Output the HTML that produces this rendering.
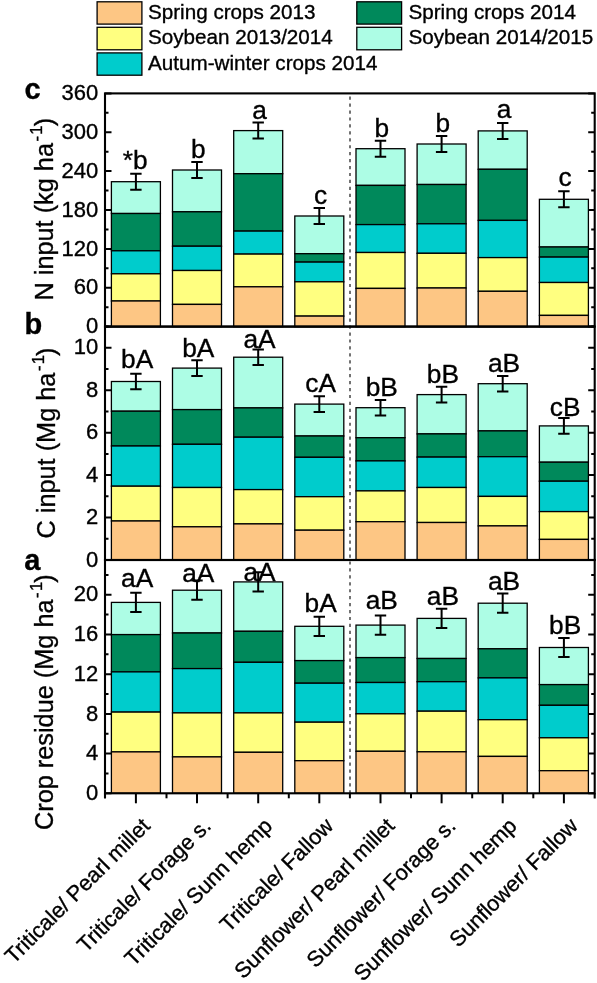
<!DOCTYPE html>
<html><head><meta charset="utf-8"><title>Crop residue, C input and N input</title>
<style>html,body{margin:0;padding:0;background:#fff}svg{display:block}text{font-family:"Liberation Sans",sans-serif;fill:#000;stroke:#000;stroke-width:0.35px}</style></head><body>
<svg width="597" height="983" viewBox="0 0 597 983">
<rect width="597" height="983" fill="#fff"/>
<rect x="111.4" y="181.7" width="49.0" height="31.8" fill="#ADFDE5" stroke="#000" stroke-width="1.3"/>
<rect x="111.4" y="213.5" width="49.0" height="37.3" fill="#00895B" stroke="#000" stroke-width="1.3"/>
<rect x="111.4" y="250.8" width="49.0" height="23.0" fill="#00CCCC" stroke="#000" stroke-width="1.3"/>
<rect x="111.4" y="273.8" width="49.0" height="27.2" fill="#FFFF80" stroke="#000" stroke-width="1.3"/>
<rect x="111.4" y="301.0" width="49.0" height="25.6" fill="#FDC684" stroke="#000" stroke-width="1.3"/>
<path d="M135.9 173.7V189.7M130.2 173.7h11.4M130.2 189.7h11.4" stroke="#000" stroke-width="2" fill="none"/>
<text x="135.1" y="168.8" font-size="26.3" text-anchor="middle">*b</text>
<rect x="172.5" y="170.0" width="49.0" height="41.8" fill="#ADFDE5" stroke="#000" stroke-width="1.3"/>
<rect x="172.5" y="211.8" width="49.0" height="34.4" fill="#00895B" stroke="#000" stroke-width="1.3"/>
<rect x="172.5" y="246.2" width="49.0" height="24.3" fill="#00CCCC" stroke="#000" stroke-width="1.3"/>
<rect x="172.5" y="270.5" width="49.0" height="33.9" fill="#FFFF80" stroke="#000" stroke-width="1.3"/>
<rect x="172.5" y="304.4" width="49.0" height="22.2" fill="#FDC684" stroke="#000" stroke-width="1.3"/>
<path d="M197.0 162.0V178.0M191.3 162.0h11.4M191.3 178.0h11.4" stroke="#000" stroke-width="2" fill="none"/>
<text x="198.3" y="157.9" font-size="26.3" text-anchor="middle">b</text>
<rect x="233.7" y="130.6" width="49.0" height="43.1" fill="#ADFDE5" stroke="#000" stroke-width="1.3"/>
<rect x="233.7" y="173.7" width="49.0" height="57.4" fill="#00895B" stroke="#000" stroke-width="1.3"/>
<rect x="233.7" y="231.1" width="49.0" height="23.0" fill="#00CCCC" stroke="#000" stroke-width="1.3"/>
<rect x="233.7" y="254.1" width="49.0" height="32.7" fill="#FFFF80" stroke="#000" stroke-width="1.3"/>
<rect x="233.7" y="286.8" width="49.0" height="39.8" fill="#FDC684" stroke="#000" stroke-width="1.3"/>
<path d="M258.2 122.6V138.6M252.5 122.6h11.4M252.5 138.6h11.4" stroke="#000" stroke-width="2" fill="none"/>
<text x="259.5" y="119.4" font-size="26.3" text-anchor="middle">a</text>
<rect x="294.8" y="216.0" width="49.0" height="37.7" fill="#ADFDE5" stroke="#000" stroke-width="1.3"/>
<rect x="294.8" y="253.7" width="49.0" height="8.4" fill="#00895B" stroke="#000" stroke-width="1.3"/>
<rect x="294.8" y="262.1" width="49.0" height="19.7" fill="#00CCCC" stroke="#000" stroke-width="1.3"/>
<rect x="294.8" y="281.8" width="49.0" height="34.3" fill="#FFFF80" stroke="#000" stroke-width="1.3"/>
<rect x="294.8" y="316.1" width="49.0" height="10.5" fill="#FDC684" stroke="#000" stroke-width="1.3"/>
<path d="M319.3 208.0V224.0M313.6 208.0h11.4M313.6 224.0h11.4" stroke="#000" stroke-width="2" fill="none"/>
<text x="320.6" y="204.4" font-size="26.3" text-anchor="middle">c</text>
<rect x="356.0" y="148.7" width="49.0" height="36.7" fill="#ADFDE5" stroke="#000" stroke-width="1.3"/>
<rect x="356.0" y="185.4" width="49.0" height="39.2" fill="#00895B" stroke="#000" stroke-width="1.3"/>
<rect x="356.0" y="224.6" width="49.0" height="27.9" fill="#00CCCC" stroke="#000" stroke-width="1.3"/>
<rect x="356.0" y="252.5" width="49.0" height="35.9" fill="#FFFF80" stroke="#000" stroke-width="1.3"/>
<rect x="356.0" y="288.4" width="49.0" height="38.2" fill="#FDC684" stroke="#000" stroke-width="1.3"/>
<path d="M380.5 140.7V156.7M374.8 140.7h11.4M374.8 156.7h11.4" stroke="#000" stroke-width="2" fill="none"/>
<text x="381.8" y="136.5" font-size="26.3" text-anchor="middle">b</text>
<rect x="417.1" y="144.0" width="49.0" height="40.5" fill="#ADFDE5" stroke="#000" stroke-width="1.3"/>
<rect x="417.1" y="184.5" width="49.0" height="39.3" fill="#00895B" stroke="#000" stroke-width="1.3"/>
<rect x="417.1" y="223.8" width="49.0" height="29.5" fill="#00CCCC" stroke="#000" stroke-width="1.3"/>
<rect x="417.1" y="253.3" width="49.0" height="34.7" fill="#FFFF80" stroke="#000" stroke-width="1.3"/>
<rect x="417.1" y="288.0" width="49.0" height="38.6" fill="#FDC684" stroke="#000" stroke-width="1.3"/>
<path d="M441.6 136.0V152.0M435.9 136.0h11.4M435.9 152.0h11.4" stroke="#000" stroke-width="2" fill="none"/>
<text x="442.9" y="132.3" font-size="26.3" text-anchor="middle">b</text>
<rect x="478.2" y="130.9" width="49.0" height="38.4" fill="#ADFDE5" stroke="#000" stroke-width="1.3"/>
<rect x="478.2" y="169.3" width="49.0" height="51.1" fill="#00895B" stroke="#000" stroke-width="1.3"/>
<rect x="478.2" y="220.4" width="49.0" height="37.2" fill="#00CCCC" stroke="#000" stroke-width="1.3"/>
<rect x="478.2" y="257.6" width="49.0" height="33.7" fill="#FFFF80" stroke="#000" stroke-width="1.3"/>
<rect x="478.2" y="291.3" width="49.0" height="35.3" fill="#FDC684" stroke="#000" stroke-width="1.3"/>
<path d="M502.7 122.9V138.9M497.0 122.9h11.4M497.0 138.9h11.4" stroke="#000" stroke-width="2" fill="none"/>
<text x="504.0" y="117.5" font-size="26.3" text-anchor="middle">a</text>
<rect x="539.4" y="199.3" width="49.0" height="47.7" fill="#ADFDE5" stroke="#000" stroke-width="1.3"/>
<rect x="539.4" y="247.0" width="49.0" height="10.1" fill="#00895B" stroke="#000" stroke-width="1.3"/>
<rect x="539.4" y="257.1" width="49.0" height="25.4" fill="#00CCCC" stroke="#000" stroke-width="1.3"/>
<rect x="539.4" y="282.5" width="49.0" height="32.9" fill="#FFFF80" stroke="#000" stroke-width="1.3"/>
<rect x="539.4" y="315.4" width="49.0" height="11.2" fill="#FDC684" stroke="#000" stroke-width="1.3"/>
<path d="M563.9 191.3V207.3M558.2 191.3h11.4M558.2 207.3h11.4" stroke="#000" stroke-width="2" fill="none"/>
<text x="565.2" y="186.3" font-size="26.3" text-anchor="middle">c</text>
<rect x="111.4" y="381.5" width="49.0" height="29.7" fill="#ADFDE5" stroke="#000" stroke-width="1.3"/>
<rect x="111.4" y="411.2" width="49.0" height="34.8" fill="#00895B" stroke="#000" stroke-width="1.3"/>
<rect x="111.4" y="446.0" width="49.0" height="40.2" fill="#00CCCC" stroke="#000" stroke-width="1.3"/>
<rect x="111.4" y="486.2" width="49.0" height="34.8" fill="#FFFF80" stroke="#000" stroke-width="1.3"/>
<rect x="111.4" y="521.0" width="49.0" height="39.0" fill="#FDC684" stroke="#000" stroke-width="1.3"/>
<path d="M135.9 373.7V389.3M130.2 373.7h11.4M130.2 389.3h11.4" stroke="#000" stroke-width="2" fill="none"/>
<text x="137.2" y="368.3" font-size="26.3" text-anchor="middle">bA</text>
<rect x="172.5" y="368.1" width="49.0" height="41.5" fill="#ADFDE5" stroke="#000" stroke-width="1.3"/>
<rect x="172.5" y="409.6" width="49.0" height="34.7" fill="#00895B" stroke="#000" stroke-width="1.3"/>
<rect x="172.5" y="444.3" width="49.0" height="43.2" fill="#00CCCC" stroke="#000" stroke-width="1.3"/>
<rect x="172.5" y="487.5" width="49.0" height="39.3" fill="#FFFF80" stroke="#000" stroke-width="1.3"/>
<rect x="172.5" y="526.8" width="49.0" height="33.2" fill="#FDC684" stroke="#000" stroke-width="1.3"/>
<path d="M197.0 360.3V375.9M191.3 360.3h11.4M191.3 375.9h11.4" stroke="#000" stroke-width="2" fill="none"/>
<text x="198.3" y="356.8" font-size="26.3" text-anchor="middle">bA</text>
<rect x="233.7" y="357.2" width="49.0" height="50.7" fill="#ADFDE5" stroke="#000" stroke-width="1.3"/>
<rect x="233.7" y="407.9" width="49.0" height="29.3" fill="#00895B" stroke="#000" stroke-width="1.3"/>
<rect x="233.7" y="437.2" width="49.0" height="52.4" fill="#00CCCC" stroke="#000" stroke-width="1.3"/>
<rect x="233.7" y="489.6" width="49.0" height="34.3" fill="#FFFF80" stroke="#000" stroke-width="1.3"/>
<rect x="233.7" y="523.9" width="49.0" height="36.1" fill="#FDC684" stroke="#000" stroke-width="1.3"/>
<path d="M258.2 349.4V365.0M252.5 349.4h11.4M252.5 365.0h11.4" stroke="#000" stroke-width="2" fill="none"/>
<text x="259.5" y="348.1" font-size="26.3" text-anchor="middle">aA</text>
<rect x="294.8" y="404.1" width="49.0" height="31.9" fill="#ADFDE5" stroke="#000" stroke-width="1.3"/>
<rect x="294.8" y="436.0" width="49.0" height="21.3" fill="#00895B" stroke="#000" stroke-width="1.3"/>
<rect x="294.8" y="457.3" width="49.0" height="39.4" fill="#00CCCC" stroke="#000" stroke-width="1.3"/>
<rect x="294.8" y="496.7" width="49.0" height="33.5" fill="#FFFF80" stroke="#000" stroke-width="1.3"/>
<rect x="294.8" y="530.2" width="49.0" height="29.8" fill="#FDC684" stroke="#000" stroke-width="1.3"/>
<path d="M319.3 396.3V411.9M313.6 396.3h11.4M313.6 411.9h11.4" stroke="#000" stroke-width="2" fill="none"/>
<text x="320.6" y="392.1" font-size="26.3" text-anchor="middle">cA</text>
<rect x="356.0" y="407.7" width="49.0" height="30.0" fill="#ADFDE5" stroke="#000" stroke-width="1.3"/>
<rect x="356.0" y="437.7" width="49.0" height="23.2" fill="#00895B" stroke="#000" stroke-width="1.3"/>
<rect x="356.0" y="460.9" width="49.0" height="30.0" fill="#00CCCC" stroke="#000" stroke-width="1.3"/>
<rect x="356.0" y="490.9" width="49.0" height="30.8" fill="#FFFF80" stroke="#000" stroke-width="1.3"/>
<rect x="356.0" y="521.7" width="49.0" height="38.3" fill="#FDC684" stroke="#000" stroke-width="1.3"/>
<path d="M380.5 399.9V415.5M374.8 399.9h11.4M374.8 415.5h11.4" stroke="#000" stroke-width="2" fill="none"/>
<text x="381.8" y="395.6" font-size="26.3" text-anchor="middle">bB</text>
<rect x="417.1" y="394.6" width="49.0" height="39.3" fill="#ADFDE5" stroke="#000" stroke-width="1.3"/>
<rect x="417.1" y="433.9" width="49.0" height="23.2" fill="#00895B" stroke="#000" stroke-width="1.3"/>
<rect x="417.1" y="457.1" width="49.0" height="30.4" fill="#00CCCC" stroke="#000" stroke-width="1.3"/>
<rect x="417.1" y="487.5" width="49.0" height="35.0" fill="#FFFF80" stroke="#000" stroke-width="1.3"/>
<rect x="417.1" y="522.5" width="49.0" height="37.5" fill="#FDC684" stroke="#000" stroke-width="1.3"/>
<path d="M441.6 386.8V402.4M435.9 386.8h11.4M435.9 402.4h11.4" stroke="#000" stroke-width="2" fill="none"/>
<text x="442.9" y="382.9" font-size="26.3" text-anchor="middle">bB</text>
<rect x="478.2" y="383.7" width="49.0" height="47.2" fill="#ADFDE5" stroke="#000" stroke-width="1.3"/>
<rect x="478.2" y="430.9" width="49.0" height="25.8" fill="#00895B" stroke="#000" stroke-width="1.3"/>
<rect x="478.2" y="456.7" width="49.0" height="39.7" fill="#00CCCC" stroke="#000" stroke-width="1.3"/>
<rect x="478.2" y="496.4" width="49.0" height="29.5" fill="#FFFF80" stroke="#000" stroke-width="1.3"/>
<rect x="478.2" y="525.9" width="49.0" height="34.1" fill="#FDC684" stroke="#000" stroke-width="1.3"/>
<path d="M502.7 375.9V391.5M497.0 375.9h11.4M497.0 391.5h11.4" stroke="#000" stroke-width="2" fill="none"/>
<text x="504.0" y="372.4" font-size="26.3" text-anchor="middle">aB</text>
<rect x="539.4" y="425.9" width="49.0" height="36.3" fill="#ADFDE5" stroke="#000" stroke-width="1.3"/>
<rect x="539.4" y="462.2" width="49.0" height="19.0" fill="#00895B" stroke="#000" stroke-width="1.3"/>
<rect x="539.4" y="481.2" width="49.0" height="30.4" fill="#00CCCC" stroke="#000" stroke-width="1.3"/>
<rect x="539.4" y="511.6" width="49.0" height="27.8" fill="#FFFF80" stroke="#000" stroke-width="1.3"/>
<rect x="539.4" y="539.4" width="49.0" height="20.6" fill="#FDC684" stroke="#000" stroke-width="1.3"/>
<path d="M563.9 418.1V433.7M558.2 418.1h11.4M558.2 433.7h11.4" stroke="#000" stroke-width="2" fill="none"/>
<text x="565.2" y="415.9" font-size="26.3" text-anchor="middle">cB</text>
<rect x="111.4" y="602.4" width="49.0" height="32.2" fill="#ADFDE5" stroke="#000" stroke-width="1.3"/>
<rect x="111.4" y="634.6" width="49.0" height="37.3" fill="#00895B" stroke="#000" stroke-width="1.3"/>
<rect x="111.4" y="671.9" width="49.0" height="40.2" fill="#00CCCC" stroke="#000" stroke-width="1.3"/>
<rect x="111.4" y="712.1" width="49.0" height="39.8" fill="#FFFF80" stroke="#000" stroke-width="1.3"/>
<rect x="111.4" y="751.9" width="49.0" height="41.4" fill="#FDC684" stroke="#000" stroke-width="1.3"/>
<path d="M135.9 592.8V612.0M130.2 592.8h11.4M130.2 612.0h11.4" stroke="#000" stroke-width="2" fill="none"/>
<text x="137.2" y="587.4" font-size="26.3" text-anchor="middle">aA</text>
<rect x="172.5" y="590.2" width="49.0" height="42.8" fill="#ADFDE5" stroke="#000" stroke-width="1.3"/>
<rect x="172.5" y="633.0" width="49.0" height="35.6" fill="#00895B" stroke="#000" stroke-width="1.3"/>
<rect x="172.5" y="668.6" width="49.0" height="44.3" fill="#00CCCC" stroke="#000" stroke-width="1.3"/>
<rect x="172.5" y="712.9" width="49.0" height="44.0" fill="#FFFF80" stroke="#000" stroke-width="1.3"/>
<rect x="172.5" y="756.9" width="49.0" height="36.4" fill="#FDC684" stroke="#000" stroke-width="1.3"/>
<path d="M197.0 580.6V599.8M191.3 580.6h11.4M191.3 599.8h11.4" stroke="#000" stroke-width="2" fill="none"/>
<text x="198.3" y="582.0" font-size="26.3" text-anchor="middle">aA</text>
<rect x="233.7" y="581.9" width="49.0" height="49.4" fill="#ADFDE5" stroke="#000" stroke-width="1.3"/>
<rect x="233.7" y="631.3" width="49.0" height="31.0" fill="#00895B" stroke="#000" stroke-width="1.3"/>
<rect x="233.7" y="662.3" width="49.0" height="50.6" fill="#00CCCC" stroke="#000" stroke-width="1.3"/>
<rect x="233.7" y="712.9" width="49.0" height="39.4" fill="#FFFF80" stroke="#000" stroke-width="1.3"/>
<rect x="233.7" y="752.3" width="49.0" height="41.0" fill="#FDC684" stroke="#000" stroke-width="1.3"/>
<path d="M258.2 572.3V591.5M252.5 572.3h11.4M252.5 591.5h11.4" stroke="#000" stroke-width="2" fill="none"/>
<text x="259.5" y="581.1" font-size="26.3" text-anchor="middle">aA</text>
<rect x="294.8" y="626.3" width="49.0" height="34.3" fill="#ADFDE5" stroke="#000" stroke-width="1.3"/>
<rect x="294.8" y="660.6" width="49.0" height="22.6" fill="#00895B" stroke="#000" stroke-width="1.3"/>
<rect x="294.8" y="683.2" width="49.0" height="39.0" fill="#00CCCC" stroke="#000" stroke-width="1.3"/>
<rect x="294.8" y="722.2" width="49.0" height="38.5" fill="#FFFF80" stroke="#000" stroke-width="1.3"/>
<rect x="294.8" y="760.7" width="49.0" height="32.6" fill="#FDC684" stroke="#000" stroke-width="1.3"/>
<path d="M319.3 616.7V635.9M313.6 616.7h11.4M313.6 635.9h11.4" stroke="#000" stroke-width="2" fill="none"/>
<text x="320.6" y="611.7" font-size="26.3" text-anchor="middle">bA</text>
<rect x="356.0" y="625.1" width="49.0" height="32.5" fill="#ADFDE5" stroke="#000" stroke-width="1.3"/>
<rect x="356.0" y="657.6" width="49.0" height="24.9" fill="#00895B" stroke="#000" stroke-width="1.3"/>
<rect x="356.0" y="682.5" width="49.0" height="31.3" fill="#00CCCC" stroke="#000" stroke-width="1.3"/>
<rect x="356.0" y="713.8" width="49.0" height="37.5" fill="#FFFF80" stroke="#000" stroke-width="1.3"/>
<rect x="356.0" y="751.3" width="49.0" height="42.0" fill="#FDC684" stroke="#000" stroke-width="1.3"/>
<path d="M380.5 615.5V634.7M374.8 615.5h11.4M374.8 634.7h11.4" stroke="#000" stroke-width="2" fill="none"/>
<text x="381.8" y="608.8" font-size="26.3" text-anchor="middle">aB</text>
<rect x="417.1" y="618.4" width="49.0" height="40.1" fill="#ADFDE5" stroke="#000" stroke-width="1.3"/>
<rect x="417.1" y="658.5" width="49.0" height="23.2" fill="#00895B" stroke="#000" stroke-width="1.3"/>
<rect x="417.1" y="681.7" width="49.0" height="29.5" fill="#00CCCC" stroke="#000" stroke-width="1.3"/>
<rect x="417.1" y="711.2" width="49.0" height="40.6" fill="#FFFF80" stroke="#000" stroke-width="1.3"/>
<rect x="417.1" y="751.8" width="49.0" height="41.5" fill="#FDC684" stroke="#000" stroke-width="1.3"/>
<path d="M441.6 608.8V628.0M435.9 608.8h11.4M435.9 628.0h11.4" stroke="#000" stroke-width="2" fill="none"/>
<text x="442.9" y="604.5" font-size="26.3" text-anchor="middle">aB</text>
<rect x="478.2" y="603.2" width="49.0" height="45.6" fill="#ADFDE5" stroke="#000" stroke-width="1.3"/>
<rect x="478.2" y="648.8" width="49.0" height="29.1" fill="#00895B" stroke="#000" stroke-width="1.3"/>
<rect x="478.2" y="677.9" width="49.0" height="41.8" fill="#00CCCC" stroke="#000" stroke-width="1.3"/>
<rect x="478.2" y="719.7" width="49.0" height="36.7" fill="#FFFF80" stroke="#000" stroke-width="1.3"/>
<rect x="478.2" y="756.4" width="49.0" height="36.9" fill="#FDC684" stroke="#000" stroke-width="1.3"/>
<path d="M502.7 593.6V612.8M497.0 593.6h11.4M497.0 612.8h11.4" stroke="#000" stroke-width="2" fill="none"/>
<text x="504.0" y="589.8" font-size="26.3" text-anchor="middle">aB</text>
<rect x="539.4" y="647.5" width="49.0" height="37.1" fill="#ADFDE5" stroke="#000" stroke-width="1.3"/>
<rect x="539.4" y="684.6" width="49.0" height="20.7" fill="#00895B" stroke="#000" stroke-width="1.3"/>
<rect x="539.4" y="705.3" width="49.0" height="32.5" fill="#00CCCC" stroke="#000" stroke-width="1.3"/>
<rect x="539.4" y="737.8" width="49.0" height="32.9" fill="#FFFF80" stroke="#000" stroke-width="1.3"/>
<rect x="539.4" y="770.7" width="49.0" height="22.6" fill="#FDC684" stroke="#000" stroke-width="1.3"/>
<path d="M563.9 637.9V657.1M558.2 637.9h11.4M558.2 657.1h11.4" stroke="#000" stroke-width="2" fill="none"/>
<text x="565.2" y="634.1" font-size="26.3" text-anchor="middle">bB</text>
<path d="M350.0 96.6V793.3" stroke="#6c6c6c" stroke-width="1.9" stroke-dasharray="3.2 3.737" fill="none"/>
<rect x="105.0" y="93.4" width="489.70000000000005" height="233.20000000000002" fill="none" stroke="#000" stroke-width="2.1"/>
<rect x="105.0" y="326.6" width="489.70000000000005" height="233.39999999999998" fill="none" stroke="#000" stroke-width="2.1"/>
<rect x="105.0" y="560.0" width="489.70000000000005" height="233.29999999999995" fill="none" stroke="#000" stroke-width="2.1"/>
<path d="M105.0 326.6h6.5M594.7 326.6h-6.5" stroke="#000" stroke-width="2" fill="none"/>
<text x="98.3" y="333.2" font-size="22" text-anchor="end">0</text>
<path d="M105.0 307.2h3.5M594.7 307.2h-3.5" stroke="#000" stroke-width="2" fill="none"/>
<path d="M105.0 287.7h6.5M594.7 287.7h-6.5" stroke="#000" stroke-width="2" fill="none"/>
<text x="98.3" y="294.3" font-size="22" text-anchor="end">60</text>
<path d="M105.0 268.3h3.5M594.7 268.3h-3.5" stroke="#000" stroke-width="2" fill="none"/>
<path d="M105.0 248.9h6.5M594.7 248.9h-6.5" stroke="#000" stroke-width="2" fill="none"/>
<text x="98.3" y="255.5" font-size="22" text-anchor="end">120</text>
<path d="M105.0 229.4h3.5M594.7 229.4h-3.5" stroke="#000" stroke-width="2" fill="none"/>
<path d="M105.0 210.0h6.5M594.7 210.0h-6.5" stroke="#000" stroke-width="2" fill="none"/>
<text x="98.3" y="216.6" font-size="22" text-anchor="end">180</text>
<path d="M105.0 190.6h3.5M594.7 190.6h-3.5" stroke="#000" stroke-width="2" fill="none"/>
<path d="M105.0 171.1h6.5M594.7 171.1h-6.5" stroke="#000" stroke-width="2" fill="none"/>
<text x="98.3" y="177.7" font-size="22" text-anchor="end">240</text>
<path d="M105.0 151.7h3.5M594.7 151.7h-3.5" stroke="#000" stroke-width="2" fill="none"/>
<path d="M105.0 132.3h6.5M594.7 132.3h-6.5" stroke="#000" stroke-width="2" fill="none"/>
<text x="98.3" y="138.9" font-size="22" text-anchor="end">300</text>
<path d="M105.0 112.8h3.5M594.7 112.8h-3.5" stroke="#000" stroke-width="2" fill="none"/>
<path d="M105.0 93.4h6.5M594.7 93.4h-6.5" stroke="#000" stroke-width="2" fill="none"/>
<text x="98.3" y="100.0" font-size="22" text-anchor="end">360</text>
<path d="M105.0 560.0h6.5M594.7 560.0h-6.5" stroke="#000" stroke-width="2" fill="none"/>
<text x="98.3" y="566.6" font-size="22" text-anchor="end">0</text>
<path d="M105.0 538.8h3.5M594.7 538.8h-3.5" stroke="#000" stroke-width="2" fill="none"/>
<path d="M105.0 517.6h6.5M594.7 517.6h-6.5" stroke="#000" stroke-width="2" fill="none"/>
<text x="98.3" y="524.2" font-size="22" text-anchor="end">2</text>
<path d="M105.0 496.3h3.5M594.7 496.3h-3.5" stroke="#000" stroke-width="2" fill="none"/>
<path d="M105.0 475.1h6.5M594.7 475.1h-6.5" stroke="#000" stroke-width="2" fill="none"/>
<text x="98.3" y="481.7" font-size="22" text-anchor="end">4</text>
<path d="M105.0 453.9h3.5M594.7 453.9h-3.5" stroke="#000" stroke-width="2" fill="none"/>
<path d="M105.0 432.7h6.5M594.7 432.7h-6.5" stroke="#000" stroke-width="2" fill="none"/>
<text x="98.3" y="439.3" font-size="22" text-anchor="end">6</text>
<path d="M105.0 411.5h3.5M594.7 411.5h-3.5" stroke="#000" stroke-width="2" fill="none"/>
<path d="M105.0 390.3h6.5M594.7 390.3h-6.5" stroke="#000" stroke-width="2" fill="none"/>
<text x="98.3" y="396.9" font-size="22" text-anchor="end">8</text>
<path d="M105.0 369.0h3.5M594.7 369.0h-3.5" stroke="#000" stroke-width="2" fill="none"/>
<path d="M105.0 347.8h6.5M594.7 347.8h-6.5" stroke="#000" stroke-width="2" fill="none"/>
<text x="98.3" y="354.4" font-size="22" text-anchor="end">10</text>
<path d="M105.0 326.6h3.5M594.7 326.6h-3.5" stroke="#000" stroke-width="2" fill="none"/>
<path d="M105.0 793.3h6.5M594.7 793.3h-6.5" stroke="#000" stroke-width="2" fill="none"/>
<text x="98.3" y="799.9" font-size="22" text-anchor="end">0</text>
<path d="M105.0 773.4h3.5M594.7 773.4h-3.5" stroke="#000" stroke-width="2" fill="none"/>
<path d="M105.0 753.6h6.5M594.7 753.6h-6.5" stroke="#000" stroke-width="2" fill="none"/>
<text x="98.3" y="760.2" font-size="22" text-anchor="end">4</text>
<path d="M105.0 733.7h3.5M594.7 733.7h-3.5" stroke="#000" stroke-width="2" fill="none"/>
<path d="M105.0 713.9h6.5M594.7 713.9h-6.5" stroke="#000" stroke-width="2" fill="none"/>
<text x="98.3" y="720.5" font-size="22" text-anchor="end">8</text>
<path d="M105.0 694.0h3.5M594.7 694.0h-3.5" stroke="#000" stroke-width="2" fill="none"/>
<path d="M105.0 674.2h6.5M594.7 674.2h-6.5" stroke="#000" stroke-width="2" fill="none"/>
<text x="98.3" y="680.8" font-size="22" text-anchor="end">12</text>
<path d="M105.0 654.3h3.5M594.7 654.3h-3.5" stroke="#000" stroke-width="2" fill="none"/>
<path d="M105.0 634.5h6.5M594.7 634.5h-6.5" stroke="#000" stroke-width="2" fill="none"/>
<text x="98.3" y="641.1" font-size="22" text-anchor="end">16</text>
<path d="M105.0 614.6h3.5M594.7 614.6h-3.5" stroke="#000" stroke-width="2" fill="none"/>
<path d="M105.0 594.7h6.5M594.7 594.7h-6.5" stroke="#000" stroke-width="2" fill="none"/>
<text x="98.3" y="601.3" font-size="22" text-anchor="end">20</text>
<path d="M105.0 574.9h3.5M594.7 574.9h-3.5" stroke="#000" stroke-width="2" fill="none"/>
<path d="M135.9 793.3v10" stroke="#000" stroke-width="2" fill="none"/>
<path d="M166.5 793.3v5" stroke="#000" stroke-width="2" fill="none"/>
<text transform="translate(151.2 827.2) rotate(-45)" font-size="21.7" text-anchor="end">Triticale/ Pearl millet</text>
<path d="M197.0 793.3v10" stroke="#000" stroke-width="2" fill="none"/>
<path d="M227.6 793.3v5" stroke="#000" stroke-width="2" fill="none"/>
<text transform="translate(212.3 827.2) rotate(-45)" font-size="21.7" text-anchor="end">Triticale/ Forage s.</text>
<path d="M258.2 793.3v10" stroke="#000" stroke-width="2" fill="none"/>
<path d="M288.8 793.3v5" stroke="#000" stroke-width="2" fill="none"/>
<text transform="translate(273.5 827.2) rotate(-45)" font-size="21.7" text-anchor="end">Triticale/ Sunn hemp</text>
<path d="M319.3 793.3v10" stroke="#000" stroke-width="2" fill="none"/>
<path d="M349.9 793.3v5" stroke="#000" stroke-width="2" fill="none"/>
<text transform="translate(334.6 827.2) rotate(-45)" font-size="21.7" text-anchor="end">Triticale/ Fallow</text>
<path d="M380.5 793.3v10" stroke="#000" stroke-width="2" fill="none"/>
<path d="M411.0 793.3v5" stroke="#000" stroke-width="2" fill="none"/>
<text transform="translate(395.8 827.2) rotate(-45)" font-size="21.7" text-anchor="end">Sunflower/ Pearl millet</text>
<path d="M441.6 793.3v10" stroke="#000" stroke-width="2" fill="none"/>
<path d="M472.2 793.3v5" stroke="#000" stroke-width="2" fill="none"/>
<text transform="translate(456.9 827.2) rotate(-45)" font-size="21.7" text-anchor="end">Sunflower/ Forage s.</text>
<path d="M502.7 793.3v10" stroke="#000" stroke-width="2" fill="none"/>
<path d="M533.3 793.3v5" stroke="#000" stroke-width="2" fill="none"/>
<text transform="translate(518.0 827.2) rotate(-45)" font-size="21.7" text-anchor="end">Sunflower/ Sunn hemp</text>
<path d="M563.9 793.3v10" stroke="#000" stroke-width="2" fill="none"/>
<path d="M105.0 793.3v5.2M594.7 793.3v5.2" stroke="#000" stroke-width="2.1" fill="none"/>
<text transform="translate(579.2 827.2) rotate(-45)" font-size="21.7" text-anchor="end">Sunflower/ Fallow</text>
<text transform="translate(52.5 300.5) rotate(-90)" font-size="25.3">N input (kg ha<tspan font-size="16.6" dy="-10.6" dx="1.5" letter-spacing="1.3">-1</tspan><tspan dy="10.6" dx="-2.2">)</tspan></text>
<text transform="translate(54.5 538.5) rotate(-90)" font-size="25.3">C input (Mg ha<tspan font-size="16.6" dy="-10.6" dx="1.5" letter-spacing="1.3">-1</tspan><tspan dy="10.6" dx="-2.2">)</tspan></text>
<text transform="translate(52.5 830) rotate(-90)" font-size="25.3">Crop residue (Mg ha<tspan font-size="16.6" dy="-10.6" dx="1.5" letter-spacing="1.3">-1</tspan><tspan dy="10.6" dx="-2.2">)</tspan></text>
<text x="24.4" y="99.2" font-size="29" font-weight="bold">c</text>
<text x="24.6" y="334" font-size="29" font-weight="bold">b</text>
<text x="24.2" y="569.6" font-size="29" font-weight="bold">a</text>
<rect x="97.1" y="1.8" width="44.8" height="22.3" fill="#FDC684" stroke="#000" stroke-width="1.3"/>
<text x="148.0" y="19.1" font-size="20.65">Spring crops 2013</text>
<rect x="97.1" y="27.3" width="44.8" height="22.5" fill="#FFFF80" stroke="#000" stroke-width="1.3"/>
<text x="148.0" y="44.3" font-size="20.65">Soybean 2013/2014</text>
<rect x="97.1" y="52.9" width="44.8" height="22.3" fill="#00CCCC" stroke="#000" stroke-width="1.3"/>
<text x="148.0" y="70.3" font-size="20.65">Autum-winter crops 2014</text>
<rect x="356.8" y="1.8" width="44.8" height="22.3" fill="#00895B" stroke="#000" stroke-width="1.3"/>
<text x="408.5" y="19.1" font-size="20.65">Spring crops 2014</text>
<rect x="356.8" y="27.3" width="44.8" height="22.5" fill="#ADFDE5" stroke="#000" stroke-width="1.3"/>
<text x="408.5" y="44.3" font-size="20.65">Soybean 2014/2015</text>
</svg></body></html>
